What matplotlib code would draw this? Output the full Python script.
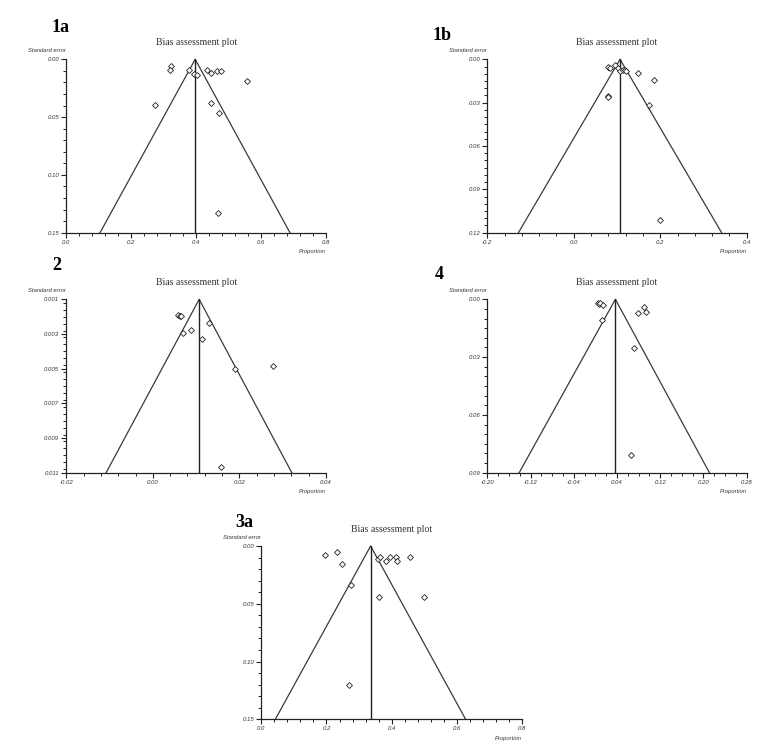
import matplotlib
matplotlib.use("Agg")
import matplotlib.pyplot as plt
import numpy as np
from matplotlib.ticker import MultipleLocator, FixedLocator

W, H = 771, 753

# ---- data ----
# 1a
x_1a = [0.321, 0.319, 0.377, 0.392, 0.402, 0.432, 0.445, 0.465, 0.478, 0.556, 0.272, 0.446, 0.470, 0.467]
se_1a = [0.0058, 0.0095, 0.0095, 0.0130, 0.0133, 0.0095, 0.0121, 0.0098, 0.0098, 0.0185, 0.0398, 0.0375, 0.0462, 0.1327]
# 1b
x_1b = [0.080, 0.0845, 0.096, 0.1015, 0.108, 0.1146, 0.119, 0.120, 0.1485, 0.1847, 0.080, 0.080, 0.1747, 0.200]
se_1b = [0.0053, 0.0060, 0.0039, 0.0062, 0.0078, 0.0074, 0.0074, 0.0081, 0.0097, 0.0145, 0.0256, 0.0261, 0.0318, 0.1115]
# 2
x_2 = [0.00572, 0.00634, 0.0065, 0.00696, 0.00889, 0.01134, 0.01296, 0.01904, 0.02767, 0.0158]
se_2 = [0.0019, 0.00196, 0.00196, 0.00294, 0.00277, 0.00329, 0.00238, 0.00502, 0.00483, 0.0107]
# 4
x_4 = [0.0055, 0.0073, 0.0092, 0.0135, 0.0122, 0.090, 0.0795, 0.093, 0.072, 0.0653]
se_4 = [0.0017, 0.0024, 0.0021, 0.0028, 0.0107, 0.0040, 0.0073, 0.0067, 0.0251, 0.0810]
# 3a
x_3a = [0.194, 0.231, 0.2466, 0.275, 0.358, 0.365, 0.3826, 0.395, 0.412, 0.416, 0.456, 0.362, 0.498, 0.269]
se_3a = [0.0075, 0.0055, 0.0159, 0.0335, 0.0115, 0.0098, 0.0127, 0.0092, 0.0092, 0.0130, 0.0092, 0.0439, 0.0439, 0.1206]

# pooled estimate and funnel limits at the bottom of the axis
pooled = {"1a": 0.397, "1b": 0.107, "2": 0.0107, "4": 0.037, "3a": 0.3355}
limit_lo = {"1a": 0.104, "1b": -0.128, "2": -0.0108, "4": -0.141, "3a": 0.043}
limit_hi = {"1a": 0.689, "1b": 0.342, "2": 0.0321, "4": 0.211, "3a": 0.627}

xticks = {
    "1a": [0.0, 0.2, 0.4, 0.6, 0.8],
    "1b": [-0.2, 0.0, 0.2, 0.4],
    "2": [-0.02, 0.00, 0.02, 0.04],
    "4": [-0.20, -0.12, -0.04, 0.04, 0.12, 0.20, 0.28],
    "3a": [0.0, 0.2, 0.4, 0.6, 0.8],
}
xlabels = {
    "1a": ["0.0", "0.2", "0.4", "0.6", "0.8"],
    "1b": ["-0.2", "0.0", "0.2", "0.4"],
    "2": ["-0.02", "0.00", "0.02", "0.04"],
    "4": ["-0.20", "-0.12", "-0.04", "0.04", "0.12", "0.20", "0.28"],
    "3a": ["0.0", "0.2", "0.4", "0.6", "0.8"],
}
yticks = {
    "1a": [0.00, 0.05, 0.10, 0.15],
    "1b": [0.00, 0.03, 0.06, 0.09, 0.12],
    "2": [0.001, 0.003, 0.005, 0.007, 0.009, 0.011],
    "4": [0.00, 0.03, 0.06, 0.09],
    "3a": [0.00, 0.05, 0.10, 0.15],
}
ylabels = {
    "1a": ["0.00", "0.05", "0.10", "0.15"],
    "1b": ["0.00", "0.03", "0.06", "0.09", "0.12"],
    "2": ["0.001", "0.003", "0.005", "0.007", "0.009", "0.011"],
    "4": ["0.00", "0.03", "0.06", "0.09"],
    "3a": ["0.00", "0.05", "0.10", "0.15"],
}
xminor = {"1a": 0.04, "1b": 0.04, "2": 0.004, "4": 0.02, "3a": 0.04}
yminor = {"1a": 0.01, "1b": 0.005, "2": 0.0004, "4": 0.005, "3a": 0.01}

points = {"1a": (x_1a, se_1a), "1b": (x_1b, se_1b), "2": (x_2, se_2), "4": (x_4, se_4), "3a": (x_3a, se_3a)}

# axes boxes in pixels: left, top, right, bottom
boxes = {
    "1a": (66.3, 59.3, 326.0, 232.7),
    "1b": (487.3, 59.3, 746.7, 232.7),
    "2": (66.3, 299.3, 326.0, 472.7),
    "4": (487.3, 299.3, 746.7, 472.7),
    "3a": (261.3, 546.0, 522.0, 719.3),
}
# panel letter positions (left, baseline) in pixels
letters = {"1a": (52, 32), "1b": (433, 40), "2": (52, 270), "4": (435, 279), "3a": (235, 527)}

fig = plt.figure(figsize=(W / 100, H / 100), dpi=100)
fig.patch.set_facecolor("white")

tickfont = dict(family="Liberation Sans", style="italic", size=4.3, color="#333333")

for key in ["1a", "1b", "2", "4", "3a"]:
    l, t, r, b = boxes[key]
    ax = fig.add_axes([l / W, 1 - b / H, (r - l) / W, (b - t) / H])
    ymin, ymax = yticks[key][0], yticks[key][-1]
    ax.set_xlim(xticks[key][0], xticks[key][-1])
    ax.set_ylim(ymax, ymin)

    c = pooled[key]
    ax.plot([limit_lo[key], c, limit_hi[key]], [ymax, ymin, ymax], color="#3a3a3a", lw=0.9, clip_on=False)
    ax.plot([c, c], [ymin, ymax], color="#222222", lw=1.0)

    xs, ys = points[key]
    ax.scatter(xs, ys, marker="D", s=9, facecolors="white", edgecolors="#222222", linewidths=0.6, zorder=3)

    for side in ["top", "right"]:
        ax.spines[side].set_visible(False)
    for side in ["left", "bottom"]:
        ax.spines[side].set_linewidth(0.9)
        ax.spines[side].set_color("#222222")

    ax.xaxis.set_major_locator(FixedLocator(xticks[key]))
    ax.yaxis.set_major_locator(FixedLocator(yticks[key]))
    ax.xaxis.set_minor_locator(MultipleLocator(xminor[key]))
    ax.yaxis.set_minor_locator(MultipleLocator(yminor[key]))
    ax.set_xticklabels(xlabels[key], fontdict=tickfont)
    ax.set_yticklabels(ylabels[key], fontdict=tickfont)
    ax.tick_params(which="major", length=3.5, width=0.8, color="#222222", pad=1.5)
    ax.tick_params(which="minor", length=2.5, width=0.7, color="#222222")

    # title and axis captions
    fig.text((l + r) / 2 / W, 1 - (t - 17) / H, "Bias assessment plot", ha="center", va="center",
             family="Liberation Serif", size=7, color="#333333")
    fig.text(l / W, 1 - (t - 8.5) / H, "Standard error", ha="right", va="center",
             family="Liberation Sans", style="italic", size=4.2, color="#333333")
    fig.text(r / W, 1 - (b + 19) / H, "Proportion", ha="right", va="center",
             family="Liberation Sans", style="italic", size=4.2, color="#333333")

    lx, ly = letters[key]
    fig.text(lx / W, 1 - ly / H, key, ha="left", va="baseline",
             family="Liberation Serif", weight="bold", size=13, color="black")

fig.savefig("out.png", dpi=100, facecolor="white")
